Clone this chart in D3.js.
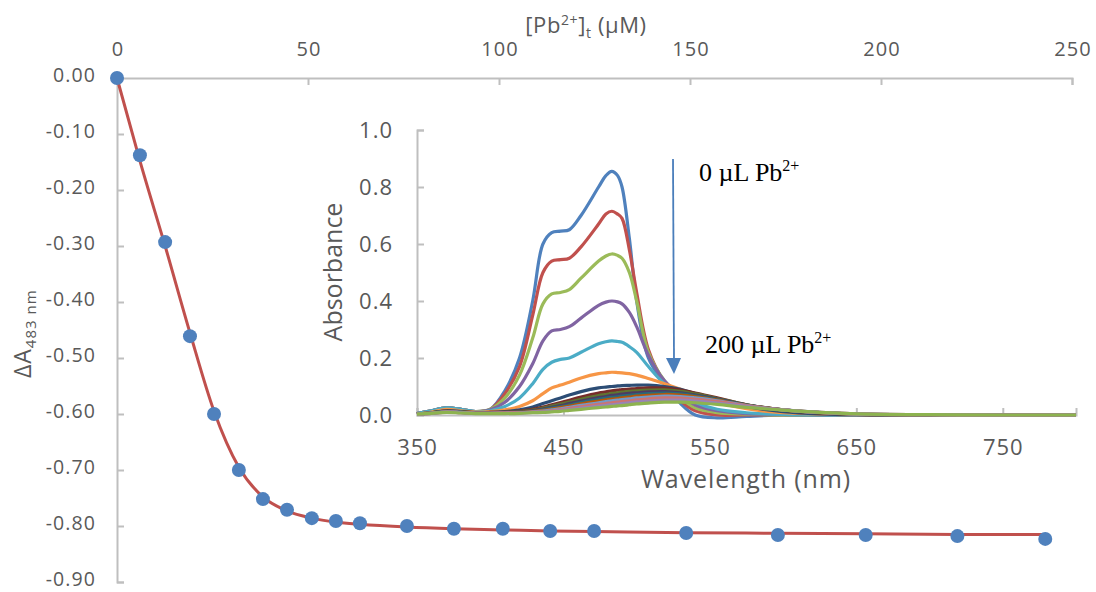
<!DOCTYPE html>
<html><head><meta charset="utf-8">
<script src="https://cdn.jsdelivr.net/npm/d3@7"></script>
<style>body{margin:0;background:#fff}svg{display:block}</style>
</head><body>
<svg id="c" width="1096" height="592"></svg>
<script>
// ---- Main titration data ----
const concUM = [0, 6.0, 12.6, 19.1, 25.4, 31.9, 38.2, 44.5, 51.0, 57.3, 63.6, 75.9, 88.2, 101, 113.4, 124.9, 149, 173, 196, 220, 243];
const deltaA = [0, -0.138, -0.293, -0.461, -0.60, -0.70, -0.752, -0.771, -0.786, -0.791, -0.795, -0.80, -0.805, -0.805, -0.809, -0.809, -0.8125, -0.816, -0.816, -0.818, -0.823];
const fitA   = [0, -0.148, -0.300, -0.455, -0.595, -0.695, -0.748, -0.773, -0.786, -0.793, -0.797, -0.802, -0.805, -0.807, -0.809, -0.810, -0.812, -0.813, -0.814, -0.815, -0.815];
const topTicks = [0, 50, 100, 150, 200, 250];
const leftTicks = [0, -0.1, -0.2, -0.3, -0.4, -0.5, -0.6, -0.7, -0.8, -0.9];

// ---- Inset spectra ----
const wavelengths = [350,360,370,380,390,400,410,420,429,436,442,448,454,462,474,479,483,487,490,495,500,508,519,530,540,555,575,600,625,650,700,750,800];
const spectra = [
 [0.005,0.015,0.025,0.02,0.012,0.02,0.085,0.20,0.40,0.60,0.64,0.645,0.65,0.70,0.80,0.84,0.855,0.84,0.80,0.62,0.40,0.20,0.11,0.04,0.0,-0.01,-0.005,0,0,0,0,0,0],
 [0.005,0.015,0.025,0.02,0.012,0.02,0.075,0.17,0.35,0.50,0.54,0.545,0.55,0.59,0.67,0.705,0.715,0.705,0.69,0.58,0.43,0.23,0.115,0.05,0.015,0,0,0,0,0,0,0,0],
 [0.005,0.015,0.025,0.02,0.012,0.02,0.06,0.14,0.27,0.39,0.425,0.43,0.44,0.48,0.54,0.558,0.565,0.56,0.55,0.50,0.40,0.22,0.12,0.06,0.025,0.008,0.003,0,0,0,0,0,0],
 [0.005,0.015,0.025,0.02,0.012,0.018,0.045,0.10,0.18,0.26,0.295,0.30,0.31,0.34,0.385,0.396,0.40,0.397,0.39,0.36,0.31,0.21,0.12,0.07,0.035,0.015,0.005,0.002,0,0,0,0,0],
 [0.005,0.015,0.025,0.02,0.012,0.015,0.03,0.06,0.11,0.16,0.185,0.195,0.20,0.22,0.25,0.257,0.26,0.258,0.255,0.24,0.22,0.17,0.11,0.075,0.045,0.02,0.008,0.002,0,0,0,0,0],
 [0.003,0.01,0.02,0.015,0.01,0.012,0.018,0.03,0.05,0.075,0.095,0.105,0.115,0.13,0.145,0.148,0.15,0.149,0.148,0.145,0.14,0.128,0.11,0.09,0.07,0.045,0.022,0.008,0.003,0.001,0,0,0],
 [0.003,0.008,0.015,0.012,0.008,0.009,0.012,0.018,0.028,0.04,0.05,0.06,0.07,0.082,0.095,0.098,0.10,0.102,0.103,0.104,0.105,0.105,0.10,0.09,0.075,0.055,0.03,0.012,0.004,0.001,0,0,0],
 [0.003,0.008,0.014,0.011,0.008,0.009,0.01,0.014,0.02,0.028,0.036,0.044,0.052,0.063,0.077,0.081,0.085,0.087,0.089,0.091,0.093,0.095,0.094,0.087,0.077,0.06,0.036,0.017,0.007,0.002,0,0,0],
 [0.003,0.008,0.013,0.011,0.008,0.008,0.009,0.012,0.017,0.024,0.031,0.038,0.045,0.055,0.068,0.072,0.076,0.078,0.08,0.083,0.085,0.087,0.088,0.083,0.074,0.058,0.036,0.018,0.008,0.003,0,0,0],
 [0.003,0.007,0.012,0.01,0.007,0.008,0.009,0.011,0.015,0.021,0.027,0.033,0.04,0.049,0.061,0.065,0.069,0.071,0.073,0.076,0.078,0.081,0.082,0.078,0.07,0.056,0.035,0.018,0.008,0.003,0.001,0,0],
 [0.003,0.007,0.012,0.01,0.007,0.007,0.008,0.01,0.013,0.018,0.024,0.029,0.035,0.044,0.055,0.059,0.062,0.064,0.066,0.069,0.072,0.075,0.077,0.074,0.067,0.054,0.035,0.018,0.008,0.003,0.001,0,0],
 [0.003,0.007,0.011,0.009,0.007,0.007,0.008,0.009,0.012,0.016,0.021,0.026,0.031,0.039,0.049,0.053,0.056,0.058,0.06,0.063,0.066,0.069,0.072,0.07,0.064,0.052,0.034,0.018,0.008,0.003,0.001,0,0],
 [0.003,0.007,0.011,0.009,0.006,0.006,0.007,0.008,0.011,0.014,0.018,0.022,0.027,0.034,0.043,0.047,0.05,0.052,0.054,0.057,0.06,0.063,0.066,0.065,0.06,0.05,0.033,0.018,0.009,0.003,0.001,0,0],
 [0.003,0.006,0.01,0.008,0.006,0.006,0.007,0.008,0.01,0.012,0.015,0.019,0.023,0.029,0.037,0.04,0.043,0.045,0.047,0.05,0.053,0.057,0.06,0.059,0.055,0.047,0.032,0.018,0.009,0.004,0.001,0,0],
 [0.003,0.006,0.01,0.008,0.006,0.006,0.006,0.007,0.009,0.011,0.013,0.016,0.019,0.024,0.031,0.034,0.036,0.038,0.04,0.043,0.046,0.049,0.052,0.052,0.049,0.042,0.03,0.018,0.009,0.004,0.001,0,0],
 [0.003,0.006,0.009,0.007,0.005,0.005,0.005,0.006,0.008,0.009,0.011,0.013,0.016,0.02,0.026,0.028,0.03,0.032,0.033,0.036,0.039,0.042,0.045,0.045,0.043,0.037,0.027,0.017,0.009,0.004,0.001,0,0]
];
const spectraColors = ["#4F81BD","#C0504D","#9BBB59","#8064A2","#4BACC6","#F79646","#2C4D75","#772C2A","#5F7530","#4D3B62","#276A7C","#B65708","#729ACA","#CD7371","#9983B5","#8DB34F"];
const insetXTicks = [350,450,550,650,750];
const insetYTicks = [0,0.2,0.4,0.6,0.8,1.0];

const svg = d3.select("#c");
const axisCol = "#BFBFBF", textCol = "#595959", font = "'Open Sans', sans-serif";

function styleAxis(g, size, ls){
  g.select(".domain").attr("stroke",axisCol).attr("stroke-width",2);
  g.selectAll(".tick line").attr("stroke",axisCol).attr("stroke-width",2);
  g.selectAll(".tick text").attr("fill",textCol).style("font-family",font)
    .style("font-size",size+"px").style("letter-spacing",ls+"px");
}

// ---- Main chart ----
const x = d3.scaleLinear().domain([0,250]).range([117,1072]);
const y = d3.scaleLinear().domain([0,-0.9]).range([78,582]);

const gTop = svg.append("g").attr("transform","translate(0,78)")
  .call(d3.axisTop(x).tickValues(topTicks).tickSize(-7).tickPadding(22).tickFormat(d3.format("d")));
const gLeft = svg.append("g").attr("transform","translate(117,0)")
  .call(d3.axisLeft(y).tickValues(leftTicks).tickSize(-7).tickPadding(21).tickFormat(d=>d3.format(".2f")(d).replace("−","-")));
styleAxis(gTop,20,1);
styleAxis(gLeft,19.5,1.1);
gTop.selectAll(".tick text").attr("dx","0.5px");
gLeft.selectAll(".tick text").attr("dy","0.2em");

svg.append("text").attr("x",586).attr("y",33).attr("text-anchor","middle")
  .attr("fill",textCol).style("font-family",font).style("font-size","22px").style("letter-spacing","0.6px")
  .html('[Pb<tspan dy="-8" font-size="14">2+</tspan><tspan dy="8">]</tspan><tspan dy="5" font-size="14">t</tspan><tspan dy="-5"> (µM)</tspan>');

svg.append("text").attr("transform","translate(31,378) rotate(-90)").attr("text-anchor","start")
  .attr("fill",textCol).style("font-family",font).style("font-size","23px").style("letter-spacing","1px")
  .html('ΔA<tspan dy="5" font-size="15">483 nm</tspan>');

// ---- Inset ----
const xs = d3.scaleLinear().domain([350,800]).range([417,1076]);
const ys = d3.scaleLinear().domain([0,1]).range([415,130]);

const gIx = svg.append("g").attr("transform","translate(0,415)")
  .call(d3.axisBottom(xs).tickValues(insetXTicks).tickSize(-7).tickPadding(24).tickFormat(d3.format("d")));
const gIy = svg.append("g").attr("transform","translate(417,0)")
  .call(d3.axisLeft(ys).tickValues(insetYTicks).tickSize(-7).tickPadding(24).tickFormat(d3.format(".1f")));
styleAxis(gIx,22,1);
styleAxis(gIy,22,1);

svg.append("text").attr("x",746).attr("y",488).attr("text-anchor","middle")
  .attr("fill",textCol).style("font-family",font).style("font-size","25px").style("letter-spacing","0.9px").text("Wavelength (nm)");
svg.append("text").attr("transform","translate(342,272) rotate(-90)").attr("text-anchor","middle")
  .attr("fill",textCol).style("font-family",font).style("font-size","25px").text("Absorbance");

const specLine = d3.line().x((d,i)=>xs(wavelengths[i])).y(d=>ys(d)).curve(d3.curveCatmullRom.alpha(0.5));
svg.append("g").selectAll("path").data(spectra).join("path")
  .attr("d",specLine).attr("fill","none")
  .attr("stroke",(d,i)=>spectraColors[i]).attr("stroke-width",3.2).attr("stroke-linejoin","round");

// arrow
svg.append("line").attr("x1",673).attr("y1",159).attr("x2",674).attr("y2",358)
  .attr("stroke","#4A7EBB").attr("stroke-width",1.8);
svg.append("path").attr("d","M666,358 L681,358 L674,374 Z").attr("fill","#4A7EBB");

const serif = "'Liberation Serif','Times New Roman',serif";
svg.append("text").attr("x",699).attr("y",181).style("font-family",serif).style("font-size","26px").attr("fill","#000")
  .html('0 µL Pb<tspan dy="-10" font-size="16">2+</tspan>');
svg.append("text").attr("x",705).attr("y",353).style("font-family",serif).style("font-size","26px").attr("fill","#000")
  .html('200 µL Pb<tspan dy="-10" font-size="16">2+</tspan>');

// ---- Main series ----
const fitLine = d3.line().x((d,i)=>x(concUM[i])).y(d=>y(d)).curve(d3.curveMonotoneX);
svg.append("path").datum(fitA).attr("d",fitLine).attr("fill","none").attr("stroke","#C0504D").attr("stroke-width",3);
svg.append("g").selectAll("circle").data(deltaA).join("circle")
  .attr("cx",(d,i)=>x(concUM[i])).attr("cy",d=>y(d)).attr("r",7).attr("fill","#4F81BD");
</script>
</body></html>
